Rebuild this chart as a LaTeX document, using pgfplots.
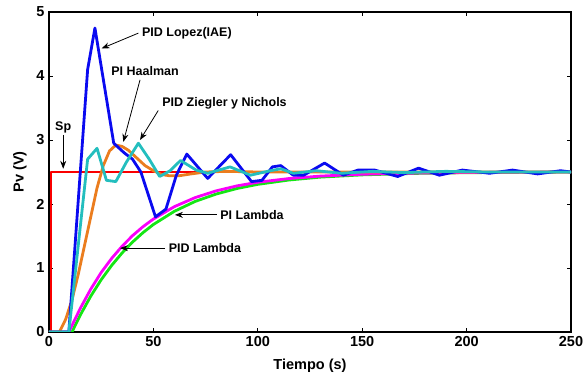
\documentclass[border=0pt]{standalone}
\usepackage{pgfplots}
\pgfplotsset{compat=1.18}
\usepackage{fontspec}
\setmainfont{Liberation Sans}
\usetikzlibrary{arrows.meta}
\definecolor{cblue}{RGB}{10,10,240}
\definecolor{corange}{RGB}{235,125,30}
\definecolor{ccyan}{RGB}{35,190,190}
\definecolor{cmag}{RGB}{250,0,250}
\definecolor{cgreen}{RGB}{20,230,20}
\definecolor{cred}{RGB}{250,0,0}
\begin{document}
\begin{tikzpicture}
\path[use as bounding box] (-49pt,-43pt) rectangle (538pt,332pt);
\begin{axis}[
  at={(0,0)}, anchor=south west,
  scale only axis, width=522pt, height=320pt,
  xmin=0, xmax=250, ymin=0, ymax=5,
  xtick={0,50,100,150,200,250}, ytick={0,1,2,3,4,5},
  tick align=inside, tick pos=both, major tick length=4pt,
  axis line style={line width=1.2pt}, tick style={line width=0.8pt,black},
  /pgf/number format/assume math mode=true,
  ticklabel style={font=\fontsize{14.5}{16}\selectfont\bfseries},
  xticklabel style={yshift=-1pt},
  yticklabel style={xshift=-1pt},
  xlabel={Tiempo (s)}, ylabel={Pv (V)},
  label style={font=\fontsize{14.5}{16}\selectfont\bfseries},
  xlabel style={at={(axis description cs:0.5,-0.106)}, anchor=center},
  ylabel style={at={(axis description cs:-0.0556,0.5)}, anchor=center},
  every axis plot/.append style={line width=2.8pt, line join=round},
  clip=true,
]
% Sp
\addplot[cred, no marks] coordinates {(1,0) (1,2.5) (250,2.5)};
% PID Lambda
\addplot[cgreen, no marks] coordinates {
(0,0) (11,0) (15,0.265) (20,0.560) (25,0.817) (30,1.040) (35,1.235) (40,1.405) (45,1.552) (50,1.680) (60,1.885) (70,2.040) (80,2.155) (90,2.242) (100,2.307) (115,2.375) (130,2.420) (150,2.455) (175,2.478) (200,2.489) (250,2.5)};
% PI Lambda
\addplot[cmag, no marks] coordinates {
(0,0) (9.5,0) (15,0.37) (20,0.67) (25,0.93) (30,1.15) (35,1.34) (40,1.505) (45,1.645) (50,1.765) (60,1.958) (70,2.10) (80,2.205) (90,2.283) (100,2.34) (115,2.398) (130,2.436) (150,2.465) (175,2.483) (200,2.492) (250,2.5)};
% PI Haalman
\addplot[corange, no marks] coordinates {
(0,0) (5,0) (8,0.2) (11,0.5) (14,0.9) (17,1.35) (20,1.8) (23,2.25) (26,2.6) (29,2.83) (32,2.92) (35,2.9) (38,2.84) (42,2.72) (46,2.6) (50,2.52) (54,2.46) (58,2.44) (62,2.44) (68,2.47) (75,2.5) (85,2.51) (100,2.5) (250,2.5)};
% PID Lopez (IAE)
\addplot[cblue, no marks] coordinates {
(0,0) (9.5,0) (18.5,4.1) (22,4.75) (31,2.95) (36,2.8) (40,2.7) (44,2.5) (51,1.8) (56,1.92) (61,2.45) (66,2.78) (76,2.40) (87,2.77) (97,2.35) (102,2.37) (107,2.58) (111,2.6) (117,2.45) (122,2.45) (132,2.64) (141,2.45) (148,2.53) (156,2.53) (167,2.43) (177,2.56) (187,2.45) (198,2.53) (211,2.48) (222,2.53) (234,2.47) (245,2.52) (250,2.5)};
% PID Ziegler y Nichols
\addplot[ccyan, no marks] coordinates {
(0,0) (9.5,0) (18.5,2.7) (23,2.87) (27.5,2.37) (32,2.35) (37,2.65) (42.8,2.95) (48,2.7) (53,2.43) (58,2.52) (63,2.68) (70.5,2.53) (76,2.48) (86.7,2.58) (96.5,2.45) (106,2.52) (111,2.55) (117,2.48) (128,2.52) (140,2.48) (155,2.51) (170,2.49) (190,2.51) (210,2.5) (250,2.5)};
% annotations
\begin{scope}[font=\fontsize{12.5}{14}\selectfont\bfseries, -{Stealth[length=8pt,width=6pt]}, line width=0.8pt]
\node[anchor=west] at (axis cs:42.8,4.67) {PID Lopez(IAE)};
\draw (axis cs:42.8,4.67) -- (axis cs:25.2,4.43);
\node[anchor=center] at (axis cs:46,4.07) {PI Haalman};
\draw (axis cs:43.6,3.94) -- (axis cs:35.6,2.97);
\node[anchor=west] at (axis cs:52.5,3.58) {PID Ziegler y Nichols};
\draw (axis cs:52.3,3.46) -- (axis cs:43.6,3.0);
\node[anchor=center] at (axis cs:6.8,3.2) {Sp};
\draw (axis cs:6.8,3.08) -- (axis cs:6.8,2.55);
\node[anchor=west] at (axis cs:80.3,1.83) {PI Lambda};
\draw (axis cs:80.3,1.83) -- (axis cs:60.3,1.83);
\node[anchor=west] at (axis cs:55.6,1.31) {PID Lambda};
\draw (axis cs:55.6,1.31) -- (axis cs:34,1.31);
\end{scope}
\end{axis}
\end{tikzpicture}
\end{document}
